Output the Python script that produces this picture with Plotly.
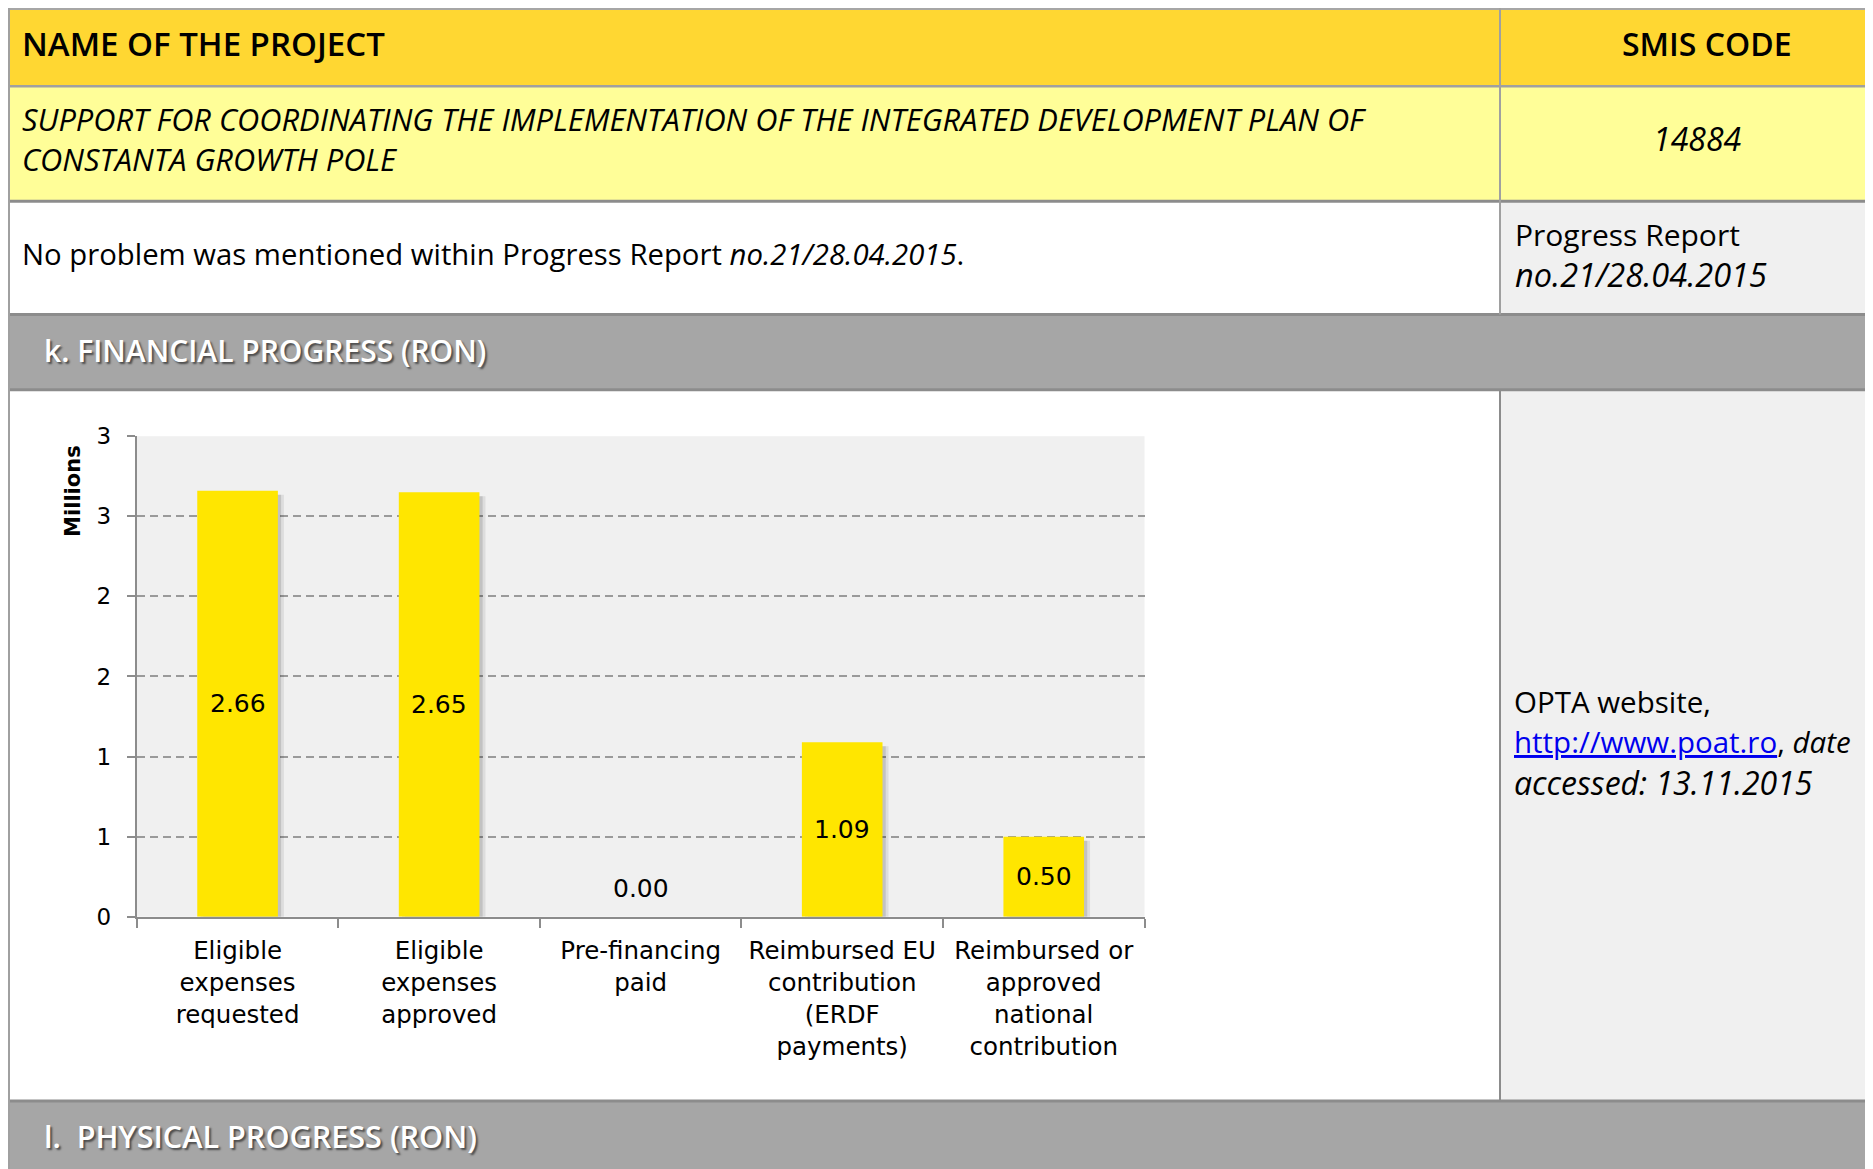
import plotly.graph_objects as go

# ---------------- data ----------------
categories = ["Eligible expenses requested", "Eligible expenses approved",
              "Pre-financing paid", "Reimbursed EU contribution (ERDF payments)",
              "Reimbursed or approved national contribution"]
category_labels = ["Eligible<br>expenses<br>requested", "Eligible<br>expenses<br>approved",
                   "Pre-financing<br>paid", "Reimbursed EU<br>contribution<br>(ERDF<br>payments)",
                   "Reimbursed or<br>approved<br>national<br>contribution"]
values_millions = [2.66, 2.65, 0.00, 1.09, 0.50]
y_tickvals = [0, 0.5, 1.0, 1.5, 2.0, 2.5, 3.0]
y_ticktext = ["0", "1", "1", "2", "2", "3", "3"]

project_name_lines = ["SUPPORT FOR COORDINATING THE IMPLEMENTATION OF THE INTEGRATED DEVELOPMENT PLAN OF",
                      "CONSTANTA GROWTH POLE"]
smis_code = "14884"

# ---------------- page geometry ----------------
WF, HF = 1865, 1176          # figure size
OX, OY, SY = 8, 21, 0.976    # observed placement of the figure on the page

def X(px):
    return (px - OX) / WF

def Y(py):
    return 1 - ((py - OY) / SY) / HF

DOC_FONT = "Open Sans"
CH_FONT = "DejaVu Sans"

fig = go.Figure()

# soft bar shadow (two layers)
for off, alpha in [(0.03, 0.08), (0.016, 0.12)]:
    fig.add_trace(go.Bar(
        x=categories, y=values_millions, base=-0.025, width=0.4, offset=-0.2 + off,
        marker=dict(color=f"rgba(0,0,0,{alpha})", line=dict(width=0)),
        hoverinfo="skip", showlegend=False))
# bars
fig.add_trace(go.Bar(
    x=categories, y=values_millions, width=0.4, offset=-0.2,
    marker=dict(color="#FFE600", line=dict(width=0)),
    showlegend=False))

# data labels
for c, v in zip(categories, values_millions):
    fig.add_annotation(x=c, y=v / 2 if v > 0 else 0, xref="x", yref="y",
                       text=f"{v:.2f}", showarrow=False,
                       yshift=0 if v > 0 else 28,
                       font=dict(family=CH_FONT, size=25, color="#000000"))

shapes = []
def rect(x0, y0, x1, y1, fill):
    shapes.append(dict(type="rect", xref="paper", yref="paper",
                       x0=X(x0), x1=X(x1), y0=Y(y1), y1=Y(y0),
                       fillcolor=fill, line=dict(width=0), layer="below"))

def line(x0, y0, x1, y1, color, w):
    shapes.append(dict(type="line", xref="paper", yref="paper",
                       x0=X(x0), x1=X(x1), y0=Y(y0), y1=Y(y1),
                       line=dict(color=color, width=w), layer="below"))

RIGHT = 1885
BOTTOM = 1200
# table cells
rect(8, 0, RIGHT, 86, "#FFD732")
rect(8, 86, RIGHT, 201, "#FFFE98")
rect(1500, 201, RIGHT, 314, "#F0F0F0")
rect(8, 314, RIGHT, 389, "#A6A6A6")
rect(1500, 389, RIGHT, 1099, "#F0F0F0")
rect(8, 1099, RIGHT, BOTTOM, "#A6A6A6")

# borders
line(8, 9, RIGHT, 9, "#A6A6A6", 2)
line(8, 86, RIGHT, 86, "#A0A0A0", 2.5)
line(8, 201, RIGHT, 201, "#8C8C8C", 3)
line(8, 314, RIGHT, 314, "#8C8C8C", 3)
line(8, 389, RIGHT, 389, "#8C8C8C", 3)
line(8, 1099, RIGHT, 1099, "#8C8C8C", 3)
line(1500, 0, 1500, 314, "#A0A0A0", 2)
line(1500, 389, 1500, 1099, "#8C8C8C", 2)
line(9, 0, 9, BOTTOM, "#A0A0A0", 2)

def text(px, py, t, size=27, color="#000000", xanchor="left", weight=None, italic=False, shadow=None):
    f = dict(family=DOC_FONT, size=size, color=color)
    if weight:
        f["weight"] = weight
    if italic:
        f["style"] = "italic"
    if shadow:
        f["shadow"] = shadow
    fig.add_annotation(x=X(px), y=Y(py), xref="paper", yref="paper", text=t,
                       showarrow=False, xanchor=xanchor, yanchor="middle", font=f)

text(20, 43, "NAME OF THE PROJECT", size=33, weight=600)
text(1707, 43, "SMIS CODE", size=32, weight=600, xanchor="center")
text(20, 119, project_name_lines[0], size=30.8, italic=True)
text(20, 159, project_name_lines[1], size=30.8, italic=True)
text(1697, 138, smis_code, size=32, italic=True, xanchor="center")
text(20, 254, "No problem was mentioned within Progress Report <i>no.21/28.04.2015</i>.", size=29.3)
text(1513, 234, "Progress Report", size=30, weight=500)
text(1513, 274, "no.21/28.04.2015", size=32.5, italic=True)
text(42, 350, "k. FINANCIAL PROGRESS (RON)", size=30, color="#FFFFFF", weight=600,
     shadow="2px 2px 2px rgba(0,0,0,0.55)")
text(42, 1134, "l.  PHYSICAL PROGRESS (RON)", size=30.6, color="#FFFFFF", weight=600,
     shadow="2px 2px 2px rgba(0,0,0,0.55)")
text(1512, 700, "OPTA website,", size=29.5, weight=500)
text(1512, 740, "<span style='color:#0000EE'><u>http://www.poat.ro</u></span>, <i>date</i>", size=29.5)
text(1512, 781, "<i>accessed: 13.11.2015</i>", size=32)

# Millions axis unit label
fig.add_annotation(x=X(73), y=Y(490), xref="paper", yref="paper", text="<b>Millions</b>",
                   textangle=-90, showarrow=False, xanchor="center", yanchor="middle",
                   font=dict(family=CH_FONT, size=21, color="#000000"))

fig.update_layout(
    width=WF, height=HF, autosize=False,
    margin=dict(l=0, r=0, t=0, b=0),
    paper_bgcolor="#FFFFFF", plot_bgcolor="#F0F0F0",
    barmode="overlay", showlegend=False,
    shapes=shapes,
    xaxis=dict(domain=[X(136.8), X(1144.5)], type="category",
               categoryorder="array", categoryarray=categories,
               tickvals=categories, ticktext=category_labels,
               tickson="boundaries", ticks="outside", ticklen=9, tickwidth=2,
               ticklabelstandoff=11,
               tickcolor="#8C8C8C", showline=True, linecolor="#8C8C8C", linewidth=2,
               showgrid=False, zeroline=False,
               tickfont=dict(family=CH_FONT, size=24.5, color="#000000"),
               fixedrange=True),
    yaxis=dict(domain=[Y(915), Y(435.4)], range=[0, 3],
               tickvals=y_tickvals, ticktext=y_ticktext,
               ticks="outside", ticklen=8, tickwidth=2, tickcolor="#8C8C8C",
               ticklabelstandoff=11,
               showline=True, linecolor="#8C8C8C", linewidth=2,
               showgrid=True, gridcolor="#9A9A9A", gridwidth=2, griddash="8px,5px",
               zeroline=False,
               tickfont=dict(family=CH_FONT, size=23, color="#000000"),
               fixedrange=True),
)

fig.write_html("out.html")
